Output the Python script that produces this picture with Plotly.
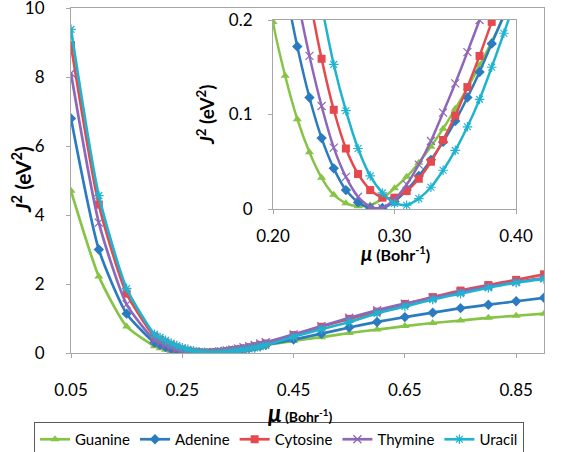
import plotly.graph_objects as go

mu = [0.05, 0.10, 0.15, 0.20, 0.21, 0.22, 0.23, 0.24, 0.25, 0.26, 0.27, 0.28, 0.29, 0.30,
      0.31, 0.32, 0.33, 0.34, 0.35, 0.36, 0.37, 0.38, 0.39, 0.40,
      0.45, 0.50, 0.55, 0.60, 0.65, 0.70, 0.75, 0.80, 0.85, 0.90]

guanine = [4.70, 2.22, 0.77, 0.198, 0.141, 0.095, 0.060, 0.033, 0.015, 0.006, 0.003, 0.004, 0.011, 0.022,
           0.034, 0.049, 0.066, 0.085, 0.106, 0.128, 0.152, 0.177, 0.204, 0.232,
           0.35, 0.46, 0.58, 0.68, 0.78, 0.87, 0.94, 1.02, 1.08, 1.14]
adenine = [6.80, 3.00, 1.14, 0.305, 0.236, 0.172, 0.118, 0.075, 0.043, 0.020, 0.007, 0.001, 0.001, 0.008,
           0.020, 0.035, 0.052, 0.071, 0.093, 0.118, 0.145, 0.175, 0.205, 0.237,
           0.39, 0.56, 0.74, 0.90, 1.04, 1.17, 1.30, 1.40, 1.50, 1.60]
cytosine = [8.92, 4.30, 1.72, 0.48, 0.385, 0.300, 0.225, 0.159, 0.105, 0.064, 0.037, 0.020, 0.012, 0.012,
            0.019, 0.032, 0.050, 0.073, 0.099, 0.129, 0.162, 0.198, 0.236, 0.276,
            0.52, 0.76, 0.99, 1.20, 1.42, 1.62, 1.81, 1.97, 2.12, 2.28]
thymine = [8.11, 3.78, 1.41, 0.37, 0.293, 0.224, 0.162, 0.109, 0.065, 0.034, 0.013, 0.002, 0.001, 0.010,
           0.026, 0.047, 0.072, 0.102, 0.133, 0.166, 0.200, 0.236, 0.274, 0.313,
           0.54, 0.78, 1.02, 1.24, 1.43, 1.60, 1.77, 1.93, 2.06, 2.17]
uracil = [9.38, 4.56, 1.87, 0.54, 0.450, 0.365, 0.287, 0.216, 0.153, 0.104, 0.064, 0.035, 0.017, 0.006,
          0.004, 0.011, 0.023, 0.041, 0.062, 0.087, 0.116, 0.150, 0.186, 0.224,
          0.47, 0.69, 0.90, 1.15, 1.35, 1.55, 1.72, 1.89, 2.04, 2.15]

names = ["Guanine", "Adenine", "Cytosine", "Thymine", "Uracil"]
series = [guanine, adenine, cytosine, thymine, uracil]
colors = ["#86C446", "#2A7BC0", "#E5484D", "#8E68B8", "#1FB3CF"]
symbols = ["triangle-up", "diamond", "square", "x-thin-open", "asterisk-open"]

main_ticks = [0.05, 0.25, 0.45, 0.65, 0.85]
inset_xticks = [0.20, 0.30, 0.40]
inset_yticks = [0, 0.1, 0.2]

FONT = "Lato"
AX = "#A6A6A6"

fig = go.Figure()

for name, ys, c, s in zip(names, series, colors, symbols):
    open_sym = s.endswith("open")
    fig.add_trace(go.Scatter(
        x=mu, y=ys, name=name, mode="lines+markers",
        line=dict(color=c, width=2.7, shape="spline", smoothing=0.6),
        marker=dict(symbol=s, size=8, color=c,
                    line=dict(color=c, width=1.3 if open_sym else 0)),
        xaxis="x", yaxis="y", cliponaxis=True,
    ))
for name, ys, c, s in zip(names, series, colors, symbols):
    open_sym = s.endswith("open")
    fig.add_trace(go.Scatter(
        x=mu, y=ys, name=name, mode="lines+markers", showlegend=False,
        line=dict(color=c, width=2.5, shape="spline", smoothing=0.6),
        marker=dict(symbol=s, size=8, color=c,
                    line=dict(color=c, width=1.2 if open_sym else 0)),
        xaxis="x2", yaxis="y2", cliponaxis=True,
    ))

L, T, W, H = 71, 8, 473, 345
def px(x):
    return (x - L) / W
def py(y):
    return (T + H - y) / H

axis_common = dict(showline=True, linecolor=AX, linewidth=1, mirror=True,
                   ticks="outside", ticklen=4, tickcolor=AX, showgrid=False, zeroline=False,
                   ticklabeloverflow="allow", tickfont=dict(size=17))

fig.update_layout(
    width=574, height=452,
    margin=dict(l=L, r=574 - L - W, t=T, b=452 - T - H, autoexpand=False),
    paper_bgcolor="white", plot_bgcolor="white",
    font=dict(family=FONT, size=17, color="#000000"),
    showlegend=True,
    legend=dict(orientation="h", x=px(34), xanchor="left", y=py(439.5), yanchor="middle",
                bordercolor="#595959", borderwidth=1, font=dict(size=15, family=FONT),
                itemwidth=30, bgcolor="white", tracegroupgap=0),
    xaxis=dict(domain=[0, 1], range=[0.05, 0.9], tickvals=main_ticks,
               ticktext=["%.2f" % v for v in main_ticks], ticklabelstandoff=18, **axis_common),
    yaxis=dict(domain=[0, 1], range=[0, 10], tickvals=[0, 2, 4, 6, 8, 10],
               ticklabelstandoff=18, **axis_common),
    xaxis2=dict(domain=[px(273), px(516)], anchor="y2", range=[0.2, 0.4], tickvals=inset_xticks,
                ticktext=["%.2f" % v for v in inset_xticks], ticklabelstandoff=8, **axis_common),
    yaxis2=dict(domain=[py(209), py(20)], anchor="x2", range=[0, 0.2], tickvals=inset_yticks,
                ticktext=["0", "0.1", "0.2"], ticklabelstandoff=12, **axis_common),
)

ann = []
ann.append(dict(x=px(21), y=py(180), xref="paper", yref="paper", textangle=-90,
                text="<b><i>J</i><sup>2</sup> (eV<sup>2</sup>)</b>", showarrow=False,
                font=dict(size=21, family=FONT), xanchor="center", yanchor="middle"))
ann.append(dict(x=px(300), y=py(413), xref="paper", yref="paper",
                text="<b><i><span style='font-size:24px'>μ</span></i> <span style='font-size:14px'>(Bohr<sup>-1</sup>)</span></b>",
                showarrow=False, font=dict(size=14, family=FONT), xanchor="center", yanchor="middle"))
ann.append(dict(x=px(205), y=py(115), xref="paper", yref="paper", textangle=-90,
                text="<b><i>J</i><sup>2</sup> (eV<sup>2</sup>)</b>", showarrow=False,
                font=dict(size=19, family=FONT), xanchor="center", yanchor="middle"))
ann.append(dict(x=px(395), y=py(253), xref="paper", yref="paper",
                text="<b><i><span style='font-size:20px'>μ</span></i> (Bohr<sup>-1</sup>)</b>",
                showarrow=False, font=dict(size=16, family=FONT), xanchor="center", yanchor="middle"))
fig.update_layout(annotations=ann)

fig.write_html("out.html", config={"displayModeBar": False},
               post_script="document.body.style.margin='0px';document.body.style.padding='0px';")
